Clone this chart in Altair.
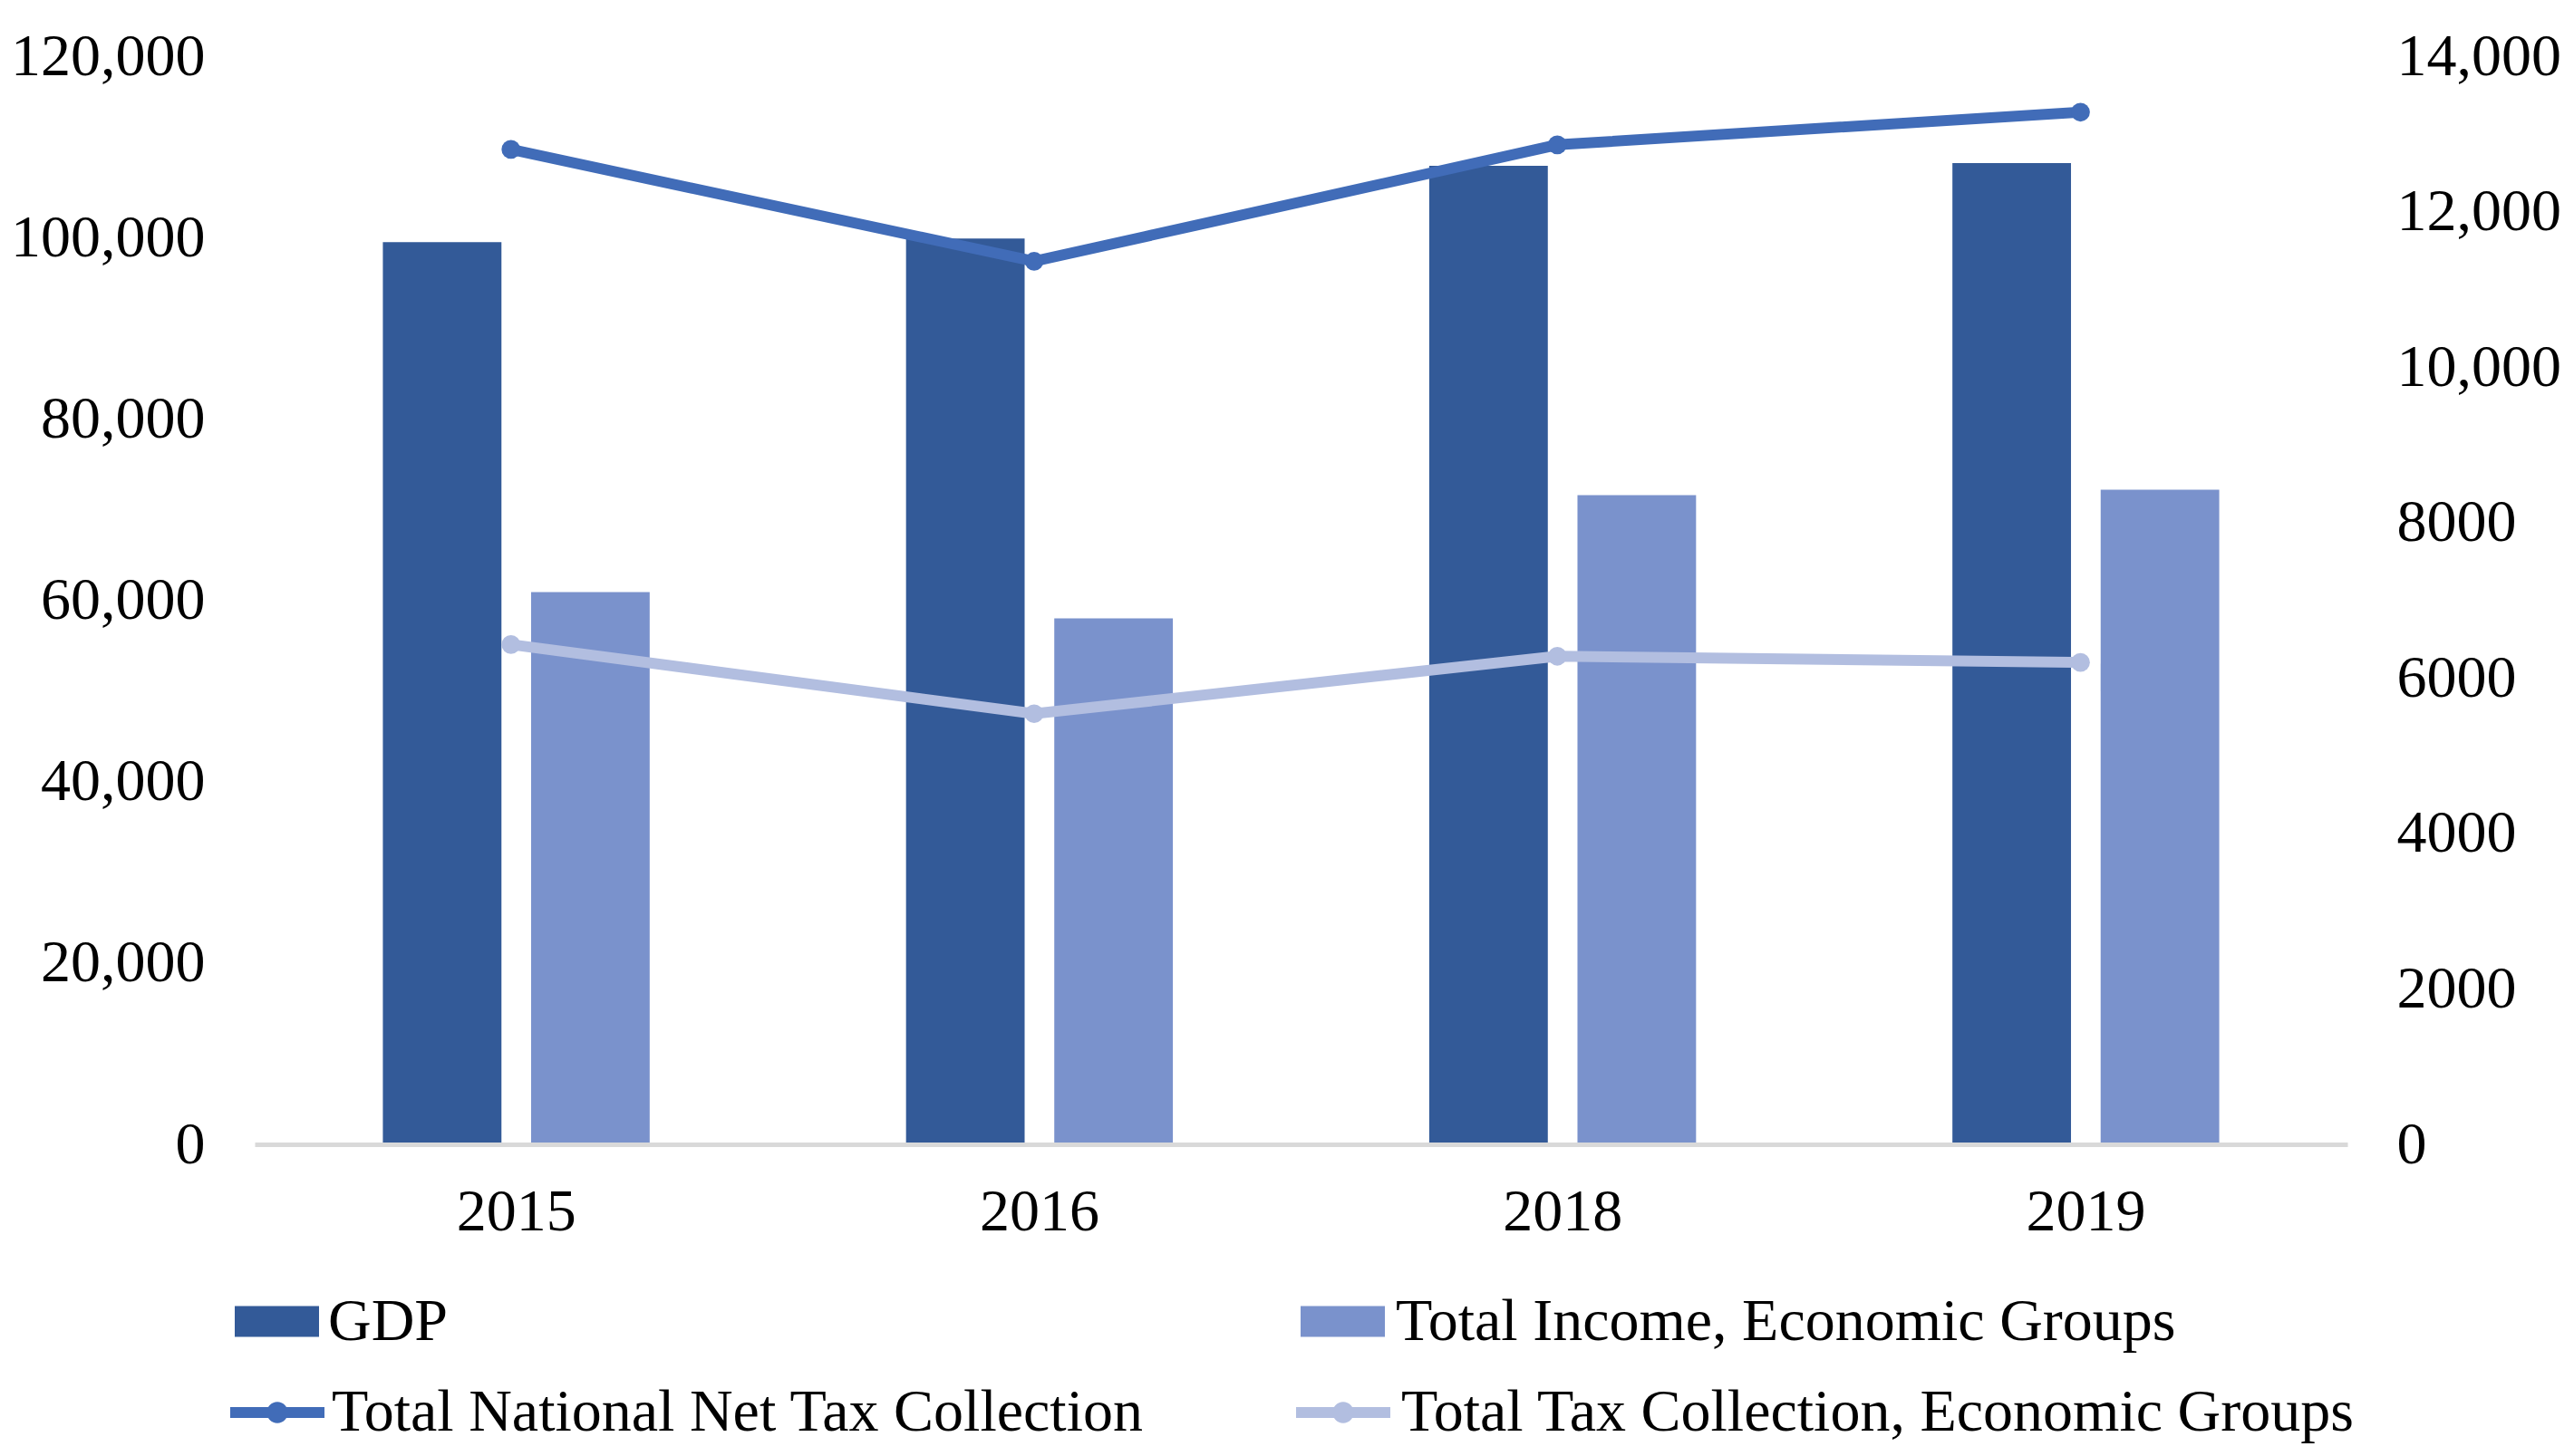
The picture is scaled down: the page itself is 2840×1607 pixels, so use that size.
import altair as alt
import pandas as pd

years = ["2015", "2016", "2018", "2019"]
gdp = [99500, 99900, 107900, 108200]
income = [60900, 58000, 71600, 72200]
net_tax = [12800, 11360, 12860, 13280]
tax_groups = [6430, 5540, 6280, 6200]

bar_names = ["GDP", "Total Income, Economic Groups"]
line_names = ["Total National Net Tax Collection", "Total Tax Collection, Economic Groups"]
bar_colors = ["#335A98", "#7A92CC"]
line_colors = ["#416CB8", "#B2BEE0"]
left_ticks = [0, 20000, 40000, 60000, 80000, 100000, 120000]
right_ticks = [0, 2000, 4000, 6000, 8000, 10000, 12000, 14000]

FONT = "Liberation Serif"
FS = 66

bars_df = pd.DataFrame({
    "year": years * 2,
    "series": [bar_names[0]] * 4 + [bar_names[1]] * 4,
    "value": gdp + income,
})
lines_df = pd.DataFrame({
    "year": years * 2,
    "series": [line_names[0]] * 4 + [line_names[1]] * 4,
    "value": net_tax + tax_groups,
})

RECT_PATH = "M-1,-0.366H1V0.366H-1Z"
LINE_PATH = ("M-1,-0.115H1V0.115H-1Z "
             "M-0.225,0A0.225,0.225 0 1,1 0.225,0A0.225,0.225 0 1,1 -0.225,0Z")

x_axis = alt.Axis(title=None, labelAngle=0, labelFont=FONT, labelFontSize=FS,
                  labelColor="black", ticks=False, domainColor="#D9D9D9",
                  domainWidth=5, labelPadding=42, grid=False, zindex=1)
x_scale = alt.Scale(domain=years, paddingInner=0.49, paddingOuter=0.245)
x_bar = alt.X("year:N", sort=years, scale=x_scale, axis=x_axis)
x_line = alt.X("year:N", sort=years, scale=x_scale, axis=x_axis, bandPosition=0.48)

left_axis = alt.Axis(title=None, values=left_ticks, labelFont=FONT,
                     labelFontSize=FS, labelColor="black", ticks=False,
                     domain=False, grid=False, labelPadding=55, orient="left",
                     labelLimit=1000,
                     labelExpr="format(datum.value, ',')")
right_axis = alt.Axis(title=None, values=right_ticks, labelFont=FONT,
                      labelFontSize=FS, labelColor="black", ticks=False,
                      domain=False, grid=False, labelPadding=54, orient="right",
                      labelLimit=1000,
                      labelExpr="datum.value >= 10000 ? format(datum.value, ',') : format(datum.value, 'd')")


def legend(x, y, path, size, offset):
    return alt.Legend(title=None, orient="none", legendX=x, legendY=y,
                      symbolType=path, symbolSize=size, symbolStrokeWidth=0,
                      symbolOpacity=1, labelFont=FONT, labelFontSize=FS,
                      labelColor="black", labelOffset=offset, padding=0,
                      labelLimit=3000)


bar_legends = [legend(-22, 1350, RECT_PATH, 93 * 93, 10),
               legend(1154, 1350, RECT_PATH, 93 * 93, 12)]
line_legends = [legend(-27, 1445, LINE_PATH, 104 * 104, 8),
                legend(1149, 1445, LINE_PATH, 104 * 104, 12)]

bar_layers = []
for name, col, lg in zip(bar_names, bar_colors, bar_legends):
    bar_layers.append(
        alt.Chart(bars_df).transform_filter(alt.datum.series == name).mark_bar().encode(
            x=x_bar,
            xOffset=alt.XOffset("series:N", scale=alt.Scale(domain=bar_names, paddingInner=0.2, paddingOuter=0)),
            y=alt.Y("value:Q", scale=alt.Scale(domain=[0, 120000]), axis=left_axis),
            color=alt.Color("series:N", scale=alt.Scale(domain=[name], range=[col]), legend=lg),
        )
    )

line_layers = []
for name, col, lg in zip(line_names, line_colors, line_legends):
    base = alt.Chart(lines_df).transform_filter(alt.datum.series == name)
    line_layers.append(
        base.mark_line(strokeWidth=12, color=col).encode(
            x=x_line,
            y=alt.Y("value:Q", scale=alt.Scale(domain=[0, 14000]), axis=right_axis),
        )
    )
    line_layers.append(
        base.mark_point(filled=True, size=430, opacity=1).encode(
            x=x_line,
            y=alt.Y("value:Q", scale=alt.Scale(domain=[0, 14000]), axis=right_axis),
            color=alt.Color("series:N", scale=alt.Scale(domain=[name], range=[col]), legend=lg),
        )
    )

bars = alt.layer(*bar_layers).resolve_scale(color="independent")
lines = alt.layer(*line_layers).resolve_scale(color="independent")

chart = (
    alt.layer(bars, lines)
    .resolve_scale(y="independent", color="independent")
    .properties(
        width=2309, height=1201,
        padding={"left": 273, "top": 54, "right": 240, "bottom": 332},
        autosize=alt.AutoSizeParams(type="none"),
        background="white",
    )
    .configure_view(stroke=None)
)

chart.save("out.html", embed_options={"renderer": "svg", "actions": False})
